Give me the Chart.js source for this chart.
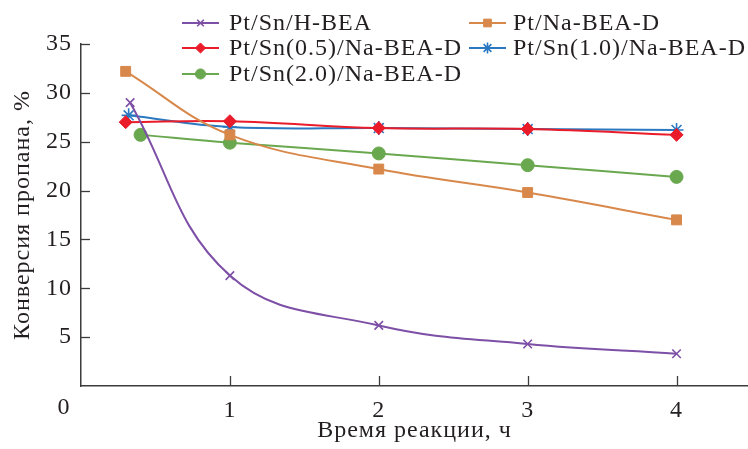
<!DOCTYPE html>
<html><head><meta charset="utf-8">
<script src="https://cdn.jsdelivr.net/npm/chart.js@4"></script>
<style>html,body{margin:0;padding:0;background:#fff;}#c{display:block;}
.fp{font-family:'Liberation Serif';position:absolute;left:-999px;top:-999px;}</style>
</head><body>
<span class="fp">Время 0123456789 Pt/Sn</span>
<canvas id="c" width="748" height="449"></canvas>
<script>
// ---- data ----
const seriesNames = ['Pt/Sn/H-BEA','Pt/Na-BEA-D','Pt/Sn(0.5)/Na-BEA-D','Pt/Sn(1.0)/Na-BEA-D','Pt/Sn(2.0)/Na-BEA-D'];
const hbeaX = [0.33, 1, 2, 3, 4];
const hbeaY = [29.0, 11.3, 6.2, 4.3, 3.3];
const naX = [0.30, 1, 2, 3, 4];
const naY = [32.2, 25.7, 22.2, 19.8, 17.0];
const sn05X = [0.30, 1, 2, 3, 4];
const sn05Y = [27.0, 27.1, 26.4, 26.3, 25.7];
const sn10X = [0.32, 1, 2, 3, 4];
const sn10Y = [27.7, 26.5, 26.4, 26.3, 26.2];
const sn20X = [0.40, 1, 2, 3, 4];
const sn20Y = [25.7, 24.9, 23.8, 22.6, 21.4];
const xTickValues = [1, 2, 3, 4];
const yTickValues = [5, 10, 15, 20, 25, 30, 35];
const xTitle = 'Время реакции, ч';
const yTitle = 'Конверсия пропана, %';

const pts = (xs, ys) => xs.map((x, i) => ({x: x, y: ys[i]}));
const FONT = "'Liberation Serif', 'DejaVu Serif', serif";
const FS = 24;
const LS = '1px';
const AXIS = '#3c3c3c';
const TXT = '#231f20';

const styles = [
  {color:'#7d4fa6', pointStyle:'crossRot', radius:6, bw:1.6},
  {color:'#d8884a', pointStyle:'rect', radius:7, bw:1},
  {color:'#ea1c2a', pointStyle:'rectRot', radius:6.5, bw:1},
  {color:'#2a78c0', pointStyle:'star', radius:7, bw:1.6},
  {color:'#6aa84f', pointStyle:'circle', radius:6.5, bw:1}
];
const dataArr = [pts(hbeaX,hbeaY), pts(naX,naY), pts(sn05X,sn05Y), pts(sn10X,sn10Y), pts(sn20X,sn20Y)];

const datasets = dataArr.map((d, i) => ({
  label: seriesNames[i],
  data: d,
  borderColor: styles[i].color,
  backgroundColor: styles[i].color,
  pointBackgroundColor: styles[i].color,
  pointBorderColor: styles[i].color,
  pointStyle: styles[i].pointStyle,
  pointRadius: styles[i].radius,
  pointBorderWidth: styles[i].bw,
  borderWidth: 2,
  tension: 0.4,
  fill: false
}));

const legendPos = [[0,0],[1,0],[0,1],[1,1],[0,2]];
const legendCols = [182, 469];
const legendTextX = [229, 513];
const legendRows = [23, 48, 74];

const spacing = {
  id: 'spacing',
  beforeInit(chart) { try { chart.ctx.letterSpacing = LS; } catch (e) {} },
  beforeDraw(chart) { try { chart.ctx.letterSpacing = LS; } catch (e) {} }
};

const decor = {
  id: 'decor',
  afterDraw(chart) {
    const ctx = chart.ctx;
    const xs = chart.scales.x, ys = chart.scales.y;
    const ca = chart.chartArea;
    ctx.save();
    ctx.strokeStyle = AXIS;
    ctx.lineWidth = 1.3;
    yTickValues.forEach(v => {
      const y = Math.round(ys.getPixelForValue(v)) + 0.5;
      ctx.beginPath(); ctx.moveTo(ca.left, y); ctx.lineTo(ca.left + 9, y); ctx.stroke();
    });
    xTickValues.forEach(v => {
      const x = Math.round(xs.getPixelForValue(v)) + 0.5;
      ctx.beginPath(); ctx.moveTo(x, ca.bottom); ctx.lineTo(x, ca.bottom - 10); ctx.stroke();
    });
    ctx.fillStyle = TXT;
    ctx.font = FS + 'px ' + FONT;
    ctx.textAlign = 'center';
    ctx.textBaseline = 'middle';
    ctx.fillText('0', xs.getPixelForValue(0) - 17, ca.bottom + 22);
    datasets.forEach((ds, i) => {
      const col = legendPos[i][0];
      const x0 = legendCols[col];
      const y = legendRows[legendPos[i][1]];
      ctx.strokeStyle = ds.borderColor;
      ctx.fillStyle = ds.borderColor;
      ctx.lineWidth = 2;
      ctx.beginPath(); ctx.moveTo(x0, y); ctx.lineTo(x0 + 37, y); ctx.stroke();
      ctx.lineWidth = ds.pointBorderWidth;
      Chart.helpers.drawPoint(ctx, {pointStyle: ds.pointStyle, radius: ds.pointRadius * 0.78, borderWidth: ds.pointBorderWidth, rotation: 0}, x0 + 18.5, y);
      ctx.fillStyle = TXT;
      ctx.font = FS + 'px ' + FONT;
      ctx.textAlign = 'left';
      ctx.textBaseline = 'middle';
      ctx.fillText(ds.label, legendTextX[col], y + 1);
    });
    ctx.restore();
  }
};

function build() {
  new Chart(document.getElementById('c'), {
    type: 'line',
    data: { datasets: datasets },
    plugins: [spacing, decor],
    options: {
      responsive: false,
      animation: false,
      devicePixelRatio: 1,
      layout: { autoPadding: false, padding: { top: 44, right: 0, left: 0, bottom: 0 } },
      plugins: { legend: { display: false }, tooltip: { enabled: false } },
      scales: {
        x: {
          type: 'linear', min: 0, max: 4.48,
          grid: { display: false, drawTicks: false },
          border: { display: true, color: AXIS, width: 1.5 },
          afterBuildTicks(s) { s.ticks = xTickValues.map(v => ({value: v})); },
          ticks: { padding: 10, color: TXT, font: { family: FONT, size: FS }, maxRotation: 0, autoSkip: false },
          title: { display: true, text: xTitle, color: TXT, font: { family: FONT, size: FS }, padding: { top: 5 } },
          afterFit(s) { s.height = 63; s.paddingRight = 0; s.paddingLeft = 0; }
        },
        y: {
          type: 'linear', min: 0, max: 35,
          grid: { display: false, drawTicks: false },
          border: { display: true, color: AXIS, width: 1.5 },
          afterBuildTicks(s) { s.ticks = yTickValues.map(v => ({value: v})); },
          ticks: { padding: 9, color: TXT, font: { family: FONT, size: FS }, autoSkip: false },
          title: { display: true, text: yTitle, color: TXT, font: { family: FONT, size: FS }, padding: { top: 8, bottom: 2 } },
          afterFit(s) { s.width = 81; s.paddingTop = 0; s.paddingBottom = 0; }
        }
      }
    }
  });
}
let built = false;
function go() { if (!built) { built = true; build(); } }
if (document.fonts && document.fonts.load) {
  Promise.all([document.fonts.load("24px 'Liberation Serif'"), document.fonts.load("24px 'Liberation Serif'", 'Время')])
    .then(go, go);
  setTimeout(go, 1500);
} else { go(); }
</script>
</body></html>
